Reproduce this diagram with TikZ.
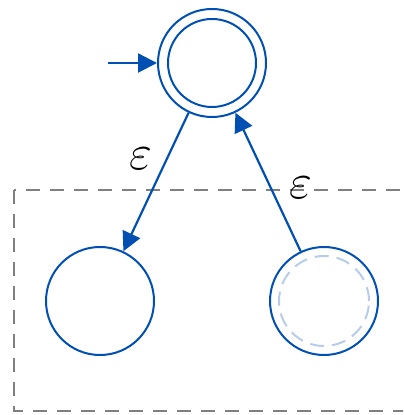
\documentclass[tikz,border=0pt]{standalone}
\usetikzlibrary{arrows.meta}

\definecolor{stateblue}{HTML}{0050B4}
\definecolor{paleblue}{HTML}{B7CCEB}
\definecolor{boxgray}{HTML}{808080}

\tikzset{
  state/.style={circle, draw=stateblue, line width=1pt, minimum size=54pt, inner sep=0pt},
  ring/.style={circle, draw=stateblue, line width=1pt, minimum size=44pt, inner sep=0pt},
  ghost/.style={circle, draw=paleblue, line width=1pt, dash pattern=on 7pt off 4pt, minimum size=45pt, inner sep=0pt},
  trans/.style={draw=stateblue, line width=1.1pt, -{Triangle[length=9.5pt,width=9.5pt]}},
  lbl/.style={font=\Huge, inner sep=2pt}
}

\begin{document}
\begin{tikzpicture}[x=0.5pt,y=-0.5pt]
  \useasboundingbox (0,0) rectangle (403,415);
  \clip (0,0) rectangle (403,415);
  % group box, runs off the right edge
  \draw[boxgray, line width=1pt, dash pattern=on 7pt off 5pt] (14,190) rectangle (430,411);

  \node[state] (q0) at (212,63) {};
  \node[ring] at (q0) {};
  \node[state] (q1) at (100,301) {};
  \node[state] (q2) at (324,301) {};
  \node[ghost] at (q2) {};

  \coordinate (start) at (108,63);
  \draw[trans] (start) -- (q0);
  \draw[trans] (q0) -- node[lbl, pos=0.33, left=5pt] {$\varepsilon$} (q1);
  \draw[trans] (q2) -- node[lbl, pos=0.46, right=7pt] {$\varepsilon$} (q0);
\end{tikzpicture}
\end{document}
